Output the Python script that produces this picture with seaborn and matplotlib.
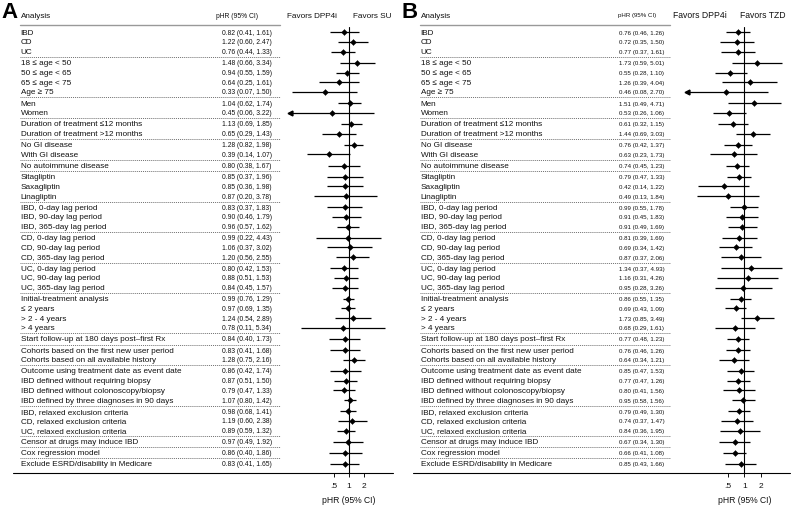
import numpy as np
import seaborn as sns
import matplotlib.pyplot as plt
import matplotlib.transforms as mtransforms
from matplotlib.lines import Line2D
from matplotlib.ticker import NullLocator

labels = ["IBD", "CD", "UC",
          "18 \u2264 age < 50", "50 \u2264 age < 65", "65 \u2264 age < 75", "Age \u2265 75",
          "Men", "Women",
          "Duration of treatment \u226412 months", "Duration of treatment >12 months",
          "No GI disease", "With GI disease",
          "No autoimmune disease",
          "Sitagliptin", "Saxagliptin", "Linagliptin",
          "IBD, 0-day lag period", "IBD, 90-day lag period", "IBD, 365-day lag period",
          "CD, 0-day lag period", "CD, 90-day lag period", "CD, 365-day lag period",
          "UC, 0-day lag period", "UC, 90-day lag period", "UC, 365-day lag period",
          "Initial-treatment analysis", "\u2264 2 years", "> 2 - 4 years", "> 4 years",
          "Start follow-up at 180 days post\u2013first Rx",
          "Cohorts based on the first new user period", "Cohorts based on all available history",
          "Outcome using treatment date as event date", "IBD defined without requiring biopsy",
          "IBD defined without colonoscopy/biopsy", "IBD defined by three diagnoses in 90 days",
          "IBD, relaxed exclusion criteria", "CD, relaxed exclusion criteria",
          "UC, relaxed exclusion criteria",
          "Censor at drugs may induce IBD",
          "Cox regression model",
          "Exclude ESRD/disability in Medicare"]
group_sizes = [3, 4, 2, 2, 2, 1, 3, 3, 3, 3, 4, 1, 2, 4, 3, 1, 1, 1]

# panel A: DPP4i vs SU
su_est = [0.82, 1.22, 0.76, 1.48, 0.94, 0.64, 0.33, 1.04, 0.45, 1.13, 0.65, 1.28, 0.39, 0.80,
          0.85, 0.85, 0.87, 0.83, 0.90, 0.96, 0.99, 1.06, 1.20, 0.80, 0.88, 0.84, 0.99, 0.97,
          1.24, 0.78, 0.84, 0.83, 1.28, 0.86, 0.87, 0.79, 1.07, 0.98, 1.19, 0.89, 0.97, 0.86, 0.83]
su_lo = [0.41, 0.60, 0.44, 0.66, 0.55, 0.25, 0.07, 0.62, 0.06, 0.69, 0.29, 0.82, 0.14, 0.38,
         0.37, 0.36, 0.20, 0.37, 0.46, 0.57, 0.22, 0.37, 0.56, 0.42, 0.51, 0.45, 0.76, 0.69,
         0.54, 0.11, 0.40, 0.41, 0.75, 0.42, 0.51, 0.47, 0.80, 0.68, 0.60, 0.59, 0.49, 0.40, 0.41]
su_hi = [1.61, 2.47, 1.33, 3.34, 1.59, 1.61, 1.50, 1.74, 3.22, 1.85, 1.43, 1.98, 1.07, 1.67,
         1.96, 1.98, 3.78, 1.83, 1.79, 1.62, 4.43, 3.02, 2.55, 1.53, 1.53, 1.57, 1.29, 1.35,
         2.89, 5.34, 1.73, 1.68, 2.16, 1.74, 1.50, 1.33, 1.42, 1.41, 2.38, 1.32, 1.92, 1.86, 1.65]

# panel B: DPP4i vs TZD
tzd_est = [0.76, 0.72, 0.77, 1.73, 0.55, 1.26, 0.46, 1.51, 0.53, 0.61, 1.44, 0.76, 0.63, 0.74,
           0.79, 0.42, 0.49, 0.99, 0.91, 0.91, 0.81, 0.69, 0.87, 1.34, 1.16, 0.95, 0.86, 0.69,
           1.73, 0.68, 0.77, 0.76, 0.64, 0.85, 0.77, 0.80, 0.95, 0.79, 0.74, 0.84, 0.67, 0.66, 0.85]
tzd_lo = [0.46, 0.35, 0.37, 0.59, 0.28, 0.39, 0.08, 0.49, 0.26, 0.32, 0.69, 0.42, 0.23, 0.45,
          0.47, 0.14, 0.13, 0.55, 0.45, 0.49, 0.39, 0.34, 0.37, 0.37, 0.31, 0.28, 0.55, 0.43,
          0.85, 0.29, 0.48, 0.46, 0.34, 0.47, 0.47, 0.41, 0.58, 0.49, 0.37, 0.36, 0.34, 0.41, 0.43]
tzd_hi = [1.26, 1.50, 1.61, 5.01, 1.10, 4.04, 2.70, 4.71, 1.06, 1.15, 3.03, 1.37, 1.73, 1.23,
          1.33, 1.22, 1.84, 1.78, 1.83, 1.69, 1.69, 1.42, 2.06, 4.93, 4.26, 3.26, 1.35, 1.09,
          3.49, 1.61, 1.23, 1.26, 1.21, 1.53, 1.26, 1.56, 1.56, 1.30, 1.47, 1.95, 1.30, 1.08, 1.66]

tick_vals = [0.5, 1, 2]
tick_labels = [".5", "1", "2"]

W, H = 793, 506
GAP = 0.15
PPU = 9.69          # pixels per row
FIRST_ROW = 33.3    # pixel y of first row
AX_TOP, AX_BOT = 28, 474

sns.set_style("white")
plt.rcParams["font.family"] = ["Liberation Sans", "DejaVu Sans"]
TXT = "#111111"
NARROW = ["Liberation Sans Narrow", "Liberation Sans"]


def fx(px):
    return px / W


def fy(py):
    return 1 - py / H


# row positions, with a small extra gap between groups
ypos, seps = [], []
y = 0.0
for n in group_sizes:
    for k in range(n):
        ypos.append(y)
        y += 1
    seps.append(y - 0.5 + GAP / 2)
    y += GAP
seps = seps[:-1]
ypos = np.array(ypos)

fig = plt.figure(figsize=(W / 100, H / 100), dpi=100)


def draw_panel(letter, est, lo, hi, comp, x0, one_px, dbl_px, xlow, x_end,
               num_x, head_c, line_end, fav_l, fav_r, num_size, fav_size):
    left = one_px + dbl_px * np.log2(xlow)
    xhigh = 2 ** ((x_end - one_px) / dbl_px)
    ax = fig.add_axes([fx(left), fy(AX_BOT), (x_end - left) / W, (AX_BOT - AX_TOP) / H])
    ax.set_xscale("log")

    est, lo, hi = np.array(est), np.array(lo), np.array(hi)
    ax.hlines(ypos, np.maximum(lo, xlow), hi, color="black", lw=0.9)
    sns.scatterplot(x=est, y=ypos, ax=ax, marker="D", s=9, color="black",
                    edgecolor="black", linewidth=0.3, zorder=3)
    cut = lo < xlow
    ax.plot(np.full(cut.sum(), xlow), ypos[cut], marker="<", ms=3.5, ls="none",
            color="black", clip_on=False)
    ax.axvline(1, color="black", lw=0.8)

    ax.set_xlim(xlow, xhigh)
    ax.set_ylim(ypos[-1] + (AX_BOT - 465) / PPU, -(FIRST_ROW - AX_TOP) / PPU)
    ax.set_xticks(tick_vals)
    ax.set_xticklabels(tick_labels)
    ax.xaxis.set_minor_locator(NullLocator())
    ax.set_yticks([])
    ax.set_xlabel("")
    ax.set_ylabel("")
    for s in ax.spines.values():
        s.set_visible(False)
    ax.tick_params(axis="x", length=3, width=0.7, labelsize=6, pad=3.5,
                   direction="out", colors=TXT, bottom=True)
    xt = mtransforms.blended_transform_factory(ax.transData, fig.transFigure)
    ax.text(1, fy(500.5), "pHR (95% CI)", transform=xt, ha="center", va="center",
            fontsize=6.2, color=TXT)

    # full-width bottom line
    fig.add_artist(Line2D([fx(x0 + 13), fx(x_end)], [fy(AX_BOT)] * 2, color="black", lw=0.8))

    # table text
    tr = mtransforms.blended_transform_factory(fig.transFigure, ax.transData)
    for yy, lab, e, l, h in zip(ypos, labels, est, lo, hi):
        ax.text(fx(x0 + 20.7), yy, lab, transform=tr, ha="left", va="center",
                fontsize=5.9, color=TXT, clip_on=False)
        ax.text(fx(num_x), yy, f"{e:.2f} ({l:.2f}, {h:.2f})", transform=tr,
                ha="left", va="center", fontsize=num_size, color=TXT, clip_on=False,
                family=NARROW)
    for sy in seps:
        ax.add_artist(Line2D([fx(x0 + 20), fx(line_end)], [sy, sy], transform=tr,
                             color="#707070", lw=0.7, ls=(0, (1, 1)), clip_on=False))

    # header
    fig.text(fx(x0 + 20.7), fy(16), "Analysis", ha="left", va="center", fontsize=5.9, color=TXT)
    fig.text(fx(head_c), fy(16), "pHR (95% CI)", ha="center", va="center",
             fontsize=num_size, color=TXT, family=NARROW)
    fig.add_artist(Line2D([fx(x0 + 20), fx(line_end)], [fy(26)] * 2, color="#999999", lw=1.0))
    fig.text(fx(fav_l), fy(16), "Favors DPP4i", ha="right", va="center",
             fontsize=fav_size, color=TXT)
    fig.text(fx(fav_r), fy(16), "Favors " + comp, ha="left", va="center",
             fontsize=fav_size, color=TXT)

    fig.text(fx(x0 + 1), fy(18), letter, ha="left", va="baseline", fontsize=16,
             fontweight="bold", color="black")


draw_panel("A", su_est, su_lo, su_hi, "SU", 0, 348.7, 14.85, 0.065, 393,
           221.7, 236.7, 280, 336.7, 352.7, 4.9, 5.9)
draw_panel("B", tzd_est, tzd_lo, tzd_hi, "TZD", 400, 744.3, 16.2, 0.085, 790,
           619.3, 637, 670, 727, 740, 4.4, 6.2)

fig.savefig("out.png", dpi=100)
